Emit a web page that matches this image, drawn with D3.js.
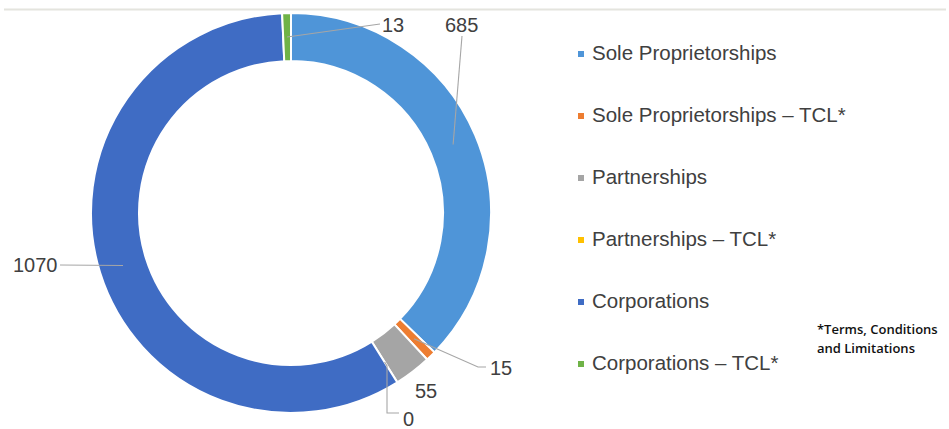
<!DOCTYPE html>
<html>
<head>
<meta charset="utf-8">
<script src="https://cdn.jsdelivr.net/npm/d3@7"></script>
<style>
  html, body { margin: 0; padding: 0; background: #fff; }
  svg { display: block; }
</style>
</head>
<body>
<svg id="chart" width="949" height="429"></svg>
<script>
// ---- data ----
const categories = [
  "Sole Proprietorships",
  "Sole Proprietorships \u2013 TCL*",
  "Partnerships",
  "Partnerships \u2013 TCL*",
  "Corporations",
  "Corporations \u2013 TCL*"
];
const values = [685, 15, 55, 0, 1070, 13];
const colors = ["#4f95d8", "#ed7d31", "#a5a5a5", "#ffc000", "#3f6cc4", "#6fb347"];
const footnote = ["*Terms, Conditions", "and Limitations"];

// ---- layout ----
const W = 949, H = 429;
const cx = 291, cy = 213, R = 200, r = 152;
const svg = d3.select("#chart");

// top rule
svg.append("line")
  .attr("x1", 4).attr("x2", 946).attr("y1", 9.5).attr("y2", 9.5)
  .attr("stroke", "#e4e4de").attr("stroke-width", 2);

const data = categories.map((c, i) => ({ cat: c, value: values[i], color: colors[i] }));
const pie = d3.pie().value(d => d.value).sort(null);
const arcs = pie(data);
const arc = d3.arc().innerRadius(r).outerRadius(R);
const midArc = d3.arc().innerRadius((r + R) / 2).outerRadius((r + R) / 2);

const g = svg.append("g").attr("transform", `translate(${cx},${cy})`);
g.selectAll("path.slice")
  .data(arcs)
  .join("path")
  .attr("class", "slice")
  .attr("d", arc)
  .attr("fill", d => d.data.color)
  .attr("stroke", "#fff")
  .attr("stroke-width", d => d.data.value > 0 ? 2 : 0);

// label placement (relative to chart centre): text anchor point and leader path bends
const labelLayout = [
  { tx: 154, ty: -181, bends: [[171, -177]] },                         // 685
  { tx: 199, ty: 162, bends: [[187, 154], [195, 154]] },                // 15
  { tx: 124, ty: 185, bends: null },                                    // 55
  { tx: 112, ty: 213, bends: [[96, 153], [96, 200], [108, 200]] },      // 0
  { tx: -278, ty: 59, bends: [[-231, 52]] },                            // 1070
  { tx: 91, ty: -181, bends: [[89, -189]] }                             // 13
];

const lab = g.append("g");
arcs.forEach((a, i) => {
  const L = labelLayout[i];
  if (L.bends) {
    const c = midArc.centroid(a);
    const pts = [c].concat(L.bends);
    lab.append("path")
      .attr("d", d3.line()(pts))
      .attr("fill", "none")
      .attr("stroke", "#a6a6a6")
      .attr("stroke-width", 1.1);
  }
  lab.append("text")
    .attr("x", L.tx).attr("y", L.ty)
    .attr("text-anchor", "start")
    .attr("font-family", "Liberation Sans, Arial, sans-serif")
    .attr("font-size", 20)
    .attr("fill", "#404040")
    .text(d3.format("d")(a.data.value));
});

// legend
const legend = svg.append("g");
const rowY = d3.scalePoint().domain(categories).range([60, 370]);
categories.forEach((c, i) => {
  const y = rowY(c);
  legend.append("rect")
    .attr("x", 578).attr("y", y - 9).attr("width", 6).attr("height", 6)
    .attr("fill", colors[i]);
  legend.append("text")
    .attr("x", 592).attr("y", y)
    .attr("font-family", "Liberation Sans, Arial, sans-serif")
    .attr("font-size", 20.5)
    .attr("fill", "#404040")
    .text(c);
});

// footnote
footnote.forEach((t, i) => {
  svg.append("text")
    .attr("x", 817).attr("y", 334 + i * 19)
    .attr("font-family", "Open Sans, sans-serif")
    .attr("font-weight", 600)
    .attr("font-size", 13)
    .attr("fill", "#111")
    .text(t);
});
</script>
</body>
</html>
